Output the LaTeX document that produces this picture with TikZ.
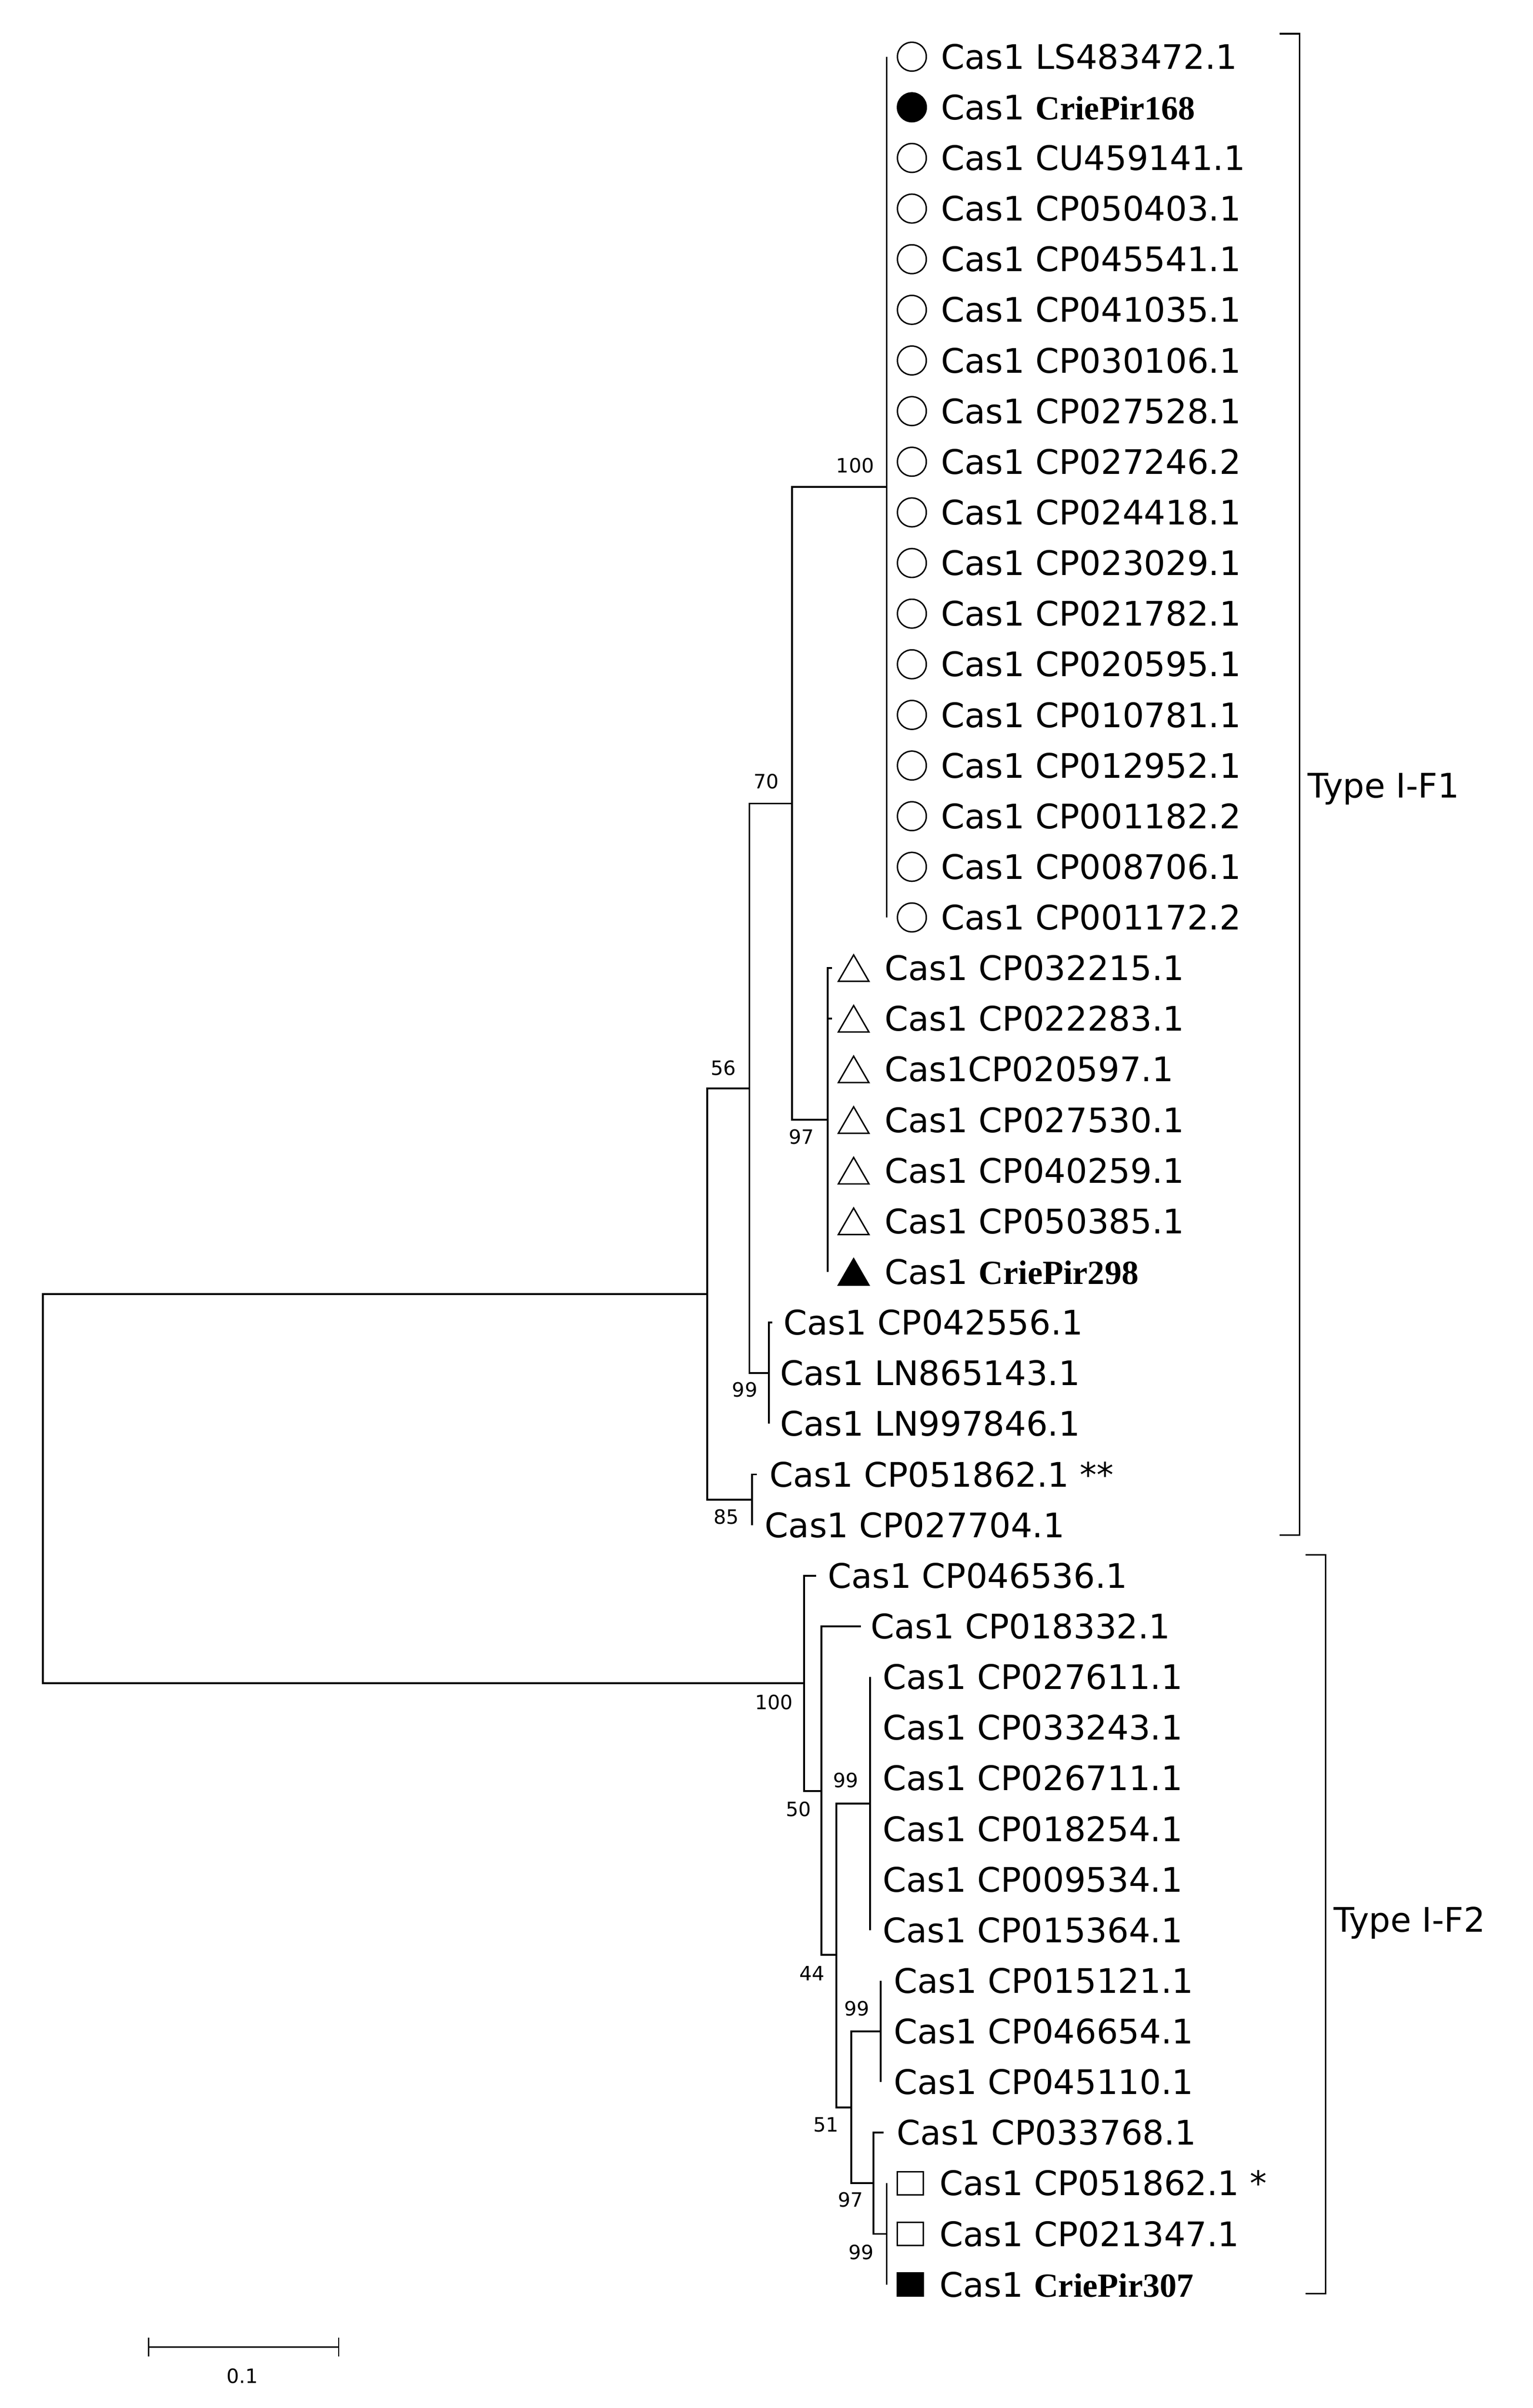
\documentclass[tikz,border=0pt]{standalone}
\usepackage{fontspec}
\setmainfont{DejaVu Sans}
\newfontfamily\tnr{Liberation Serif}
\usetikzlibrary{shapes.geometric}
\begin{document}
\begin{tikzpicture}[x=0.03821cm,y=-0.03821cm,
 br/.style={line width=1.3pt},
 lf/.style={anchor=west,inner sep=0pt,font=\fontsize{24}{28}\selectfont},
 sup/.style={inner sep=0pt,font=\fontsize{14}{16}\selectfont},
 circ/.style={circle,draw,line width=1pt,minimum size=0.72cm,inner sep=0pt},
 tri/.style={regular polygon,regular polygon sides=3,draw,line width=1pt,minimum size=0.88cm,inner sep=0pt},
 sq/.style={rectangle,draw,line width=1pt,minimum width=0.65cm,minimum height=0.57cm,inner sep=0pt}]
\useasboundingbox (0,0) rectangle (1000,1571.8);
\fill[white] (0,0) rectangle (1000,1571.8);
% leaves: circles
\foreach \i/\t/\f in {0/LS483472.1/white,1/{\tnr\bfseries CriePir168}/black,2/CU459141.1/white,3/CP050403.1/white,4/CP045541.1/white,5/CP041035.1/white,6/CP030106.1/white,7/CP027528.1/white,8/CP027246.2/white,9/CP024418.1/white,10/CP023029.1/white,11/CP021782.1/white,12/CP020595.1/white,13/CP010781.1/white,14/CP012952.1/white,15/CP001182.2/white,16/CP008706.1/white,17/CP001172.2/white}{
 \pgfmathsetmacro\y{37+33.05*\i}
 \coordinate (l\i) at (578.6,\y);
 \node[circ,fill=\f] (m\i) at (595,\y) {};
 \node[lf] (t\i) at (614,\y) {Cas1 \t};
}
% triangles
\foreach \i/\t/\f/\x in {18/{Cas1 CP032215.1}/white/543,19/{Cas1 CP022283.1}/white/543,20/{Cas1CP020597.1}/white/540,21/{Cas1 CP027530.1}/white/540,22/{Cas1 CP040259.1}/white/540,23/{Cas1 CP050385.1}/white/540,24/{Cas1 {\tnr\bfseries CriePir298}}/black/540}{
 \pgfmathsetmacro\y{37+33.05*\i}
 \coordinate (l\i) at (\x,\y);
 \node[tri,fill=\f] (m\i) at (557,\y+2.9) {};
 \node[lf] (t\i) at (577,\y) {\t};
}
% plain leaves
\foreach \i/\t/\x/\tx in {25/CP042556.1/504/511,26/LN865143.1/501.7/509,27/LN997846.1/501.7/509,28/{CP051862.1 **}/494/502,29/CP027704.1/490.8/499,30/CP046536.1/532.6/540,31/CP018332.1/561.6/568,32/CP027611.1/567.7/576,33/CP033243.1/567.7/576,34/CP026711.1/567.7/576,35/CP018254.1/567.7/576,36/CP009534.1/567.7/576,37/CP015364.1/567.7/576,38/CP015121.1/574.7/583,39/CP046654.1/574.7/583,40/CP045110.1/574.7/583,41/CP033768.1/576.6/585}{
 \pgfmathsetmacro\y{37+33.05*\i}
 \coordinate (l\i) at (\x,\y);
 \node[lf] (t\i) at (\tx,\y) {Cas1 \t};
}
% squares
\foreach \i/\t/\f in {42/{CP051862.1 *}/white,43/CP021347.1/white,44/{{\tnr\bfseries CriePir307}}/black}{
 \pgfmathsetmacro\y{37+33.05*\i}
 \coordinate (l\i) at (578.6,\y);
 \node[sq,fill=\f] (m\i) at (594,\y) {};
 \node[lf] (t\i) at (613,\y) {Cas1 \t};
}
% internal nodes
\coordinate (root) at (28,971.6);
\coordinate (n1) at (461.5,844.7);
\coordinate (n2) at (524.7,1098.6);
\coordinate (n56) at (489,710.4);
\coordinate (n85) at (490.8,979);
\coordinate (n70) at (516.8,524.5);
\coordinate (n99L) at (501.7,896.3);
\coordinate (n100c) at (578.6,317.9);
\coordinate (n97t) at (540,731);
\coordinate (n50) at (536,1169);
\coordinate (n44) at (545.8,1276);
\coordinate (n99a) at (567.7,1177.2);
\coordinate (n51) at (555.4,1375.5);
\coordinate (n99b) at (574.7,1326);
\coordinate (n97b) at (570,1425);
\coordinate (n99c) at (578.6,1458.15);
\begin{scope}[br]
\draw (root) |- (n1); \draw (root) |- (n2);
\draw (n1) |- (n56); \draw (n1) |- (n85);
\draw (n56) |- (n70); \draw (n56) |- (n99L);
\draw (n70) |- (n100c); \draw (n70) |- (n97t);
\foreach \i in {0,...,17} \draw (n100c) |- (l\i);
\foreach \i in {18,...,24} \draw (n97t) |- (l\i);
\foreach \i in {25,26,27} \draw (n99L) |- (l\i);
\foreach \i in {28,29} \draw (n85) |- (l\i);
\draw (n2) |- (l30); \draw (n2) |- (n50);
\draw (n50) |- (l31); \draw (n50) |- (n44);
\draw (n44) |- (n99a); \draw (n44) |- (n51);
\foreach \i in {32,...,37} \draw (n99a) |- (l\i);
\draw (n51) |- (n99b); \draw (n51) |- (n97b);
\foreach \i in {38,39,40} \draw (n99b) |- (l\i);
\draw (n97b) |- (l41); \draw (n97b) |- (n99c);
\foreach \i in {42,43,44} \draw (n99c) |- (l\i);
\end{scope}
% support values
\node[sup] (s1) at (558,304) {100};
\node[sup] (s2) at (500,510) {70};
\node[sup] (s3) at (523,742) {97};
\node[sup] (s4) at (472,697) {56};
\node[sup] (s5) at (486,907) {99};
\node[sup] (s6) at (474,990) {85};
\node[sup] (s7) at (505,1111) {100};
\node[sup] (s8) at (521,1181) {50};
\node[sup] (s9) at (552,1162) {99};
\node[sup] (s10) at (530,1288) {44};
\node[sup] (s11) at (559,1311) {99};
\node[sup] (s12) at (539,1387) {51};
\node[sup] (s13) at (555,1436) {97};
\node[sup] (s14) at (562,1470) {99};
% brackets
\coordinate (b1a) at (835,22); \coordinate (b1b) at (835,1002);
\draw[line width=1.1pt] (b1a) -- (848,22) -- (848,1002) -- (b1b);
\node[lf] (ty1) at (853,515) {Type I-F1};
\coordinate (b2a) at (852,1015); \coordinate (b2b) at (852,1497);
\draw[line width=1.1pt] (b2a) -- (865,1015) -- (865,1497) -- (b2b);
\node[lf] (ty2) at (870,1255) {Type I-F2};
% scale bar
\coordinate (sa) at (97,1532); \coordinate (sb) at (221,1532);
\draw[line width=1pt] (sa) -- (sb);
\draw[line width=1pt] (97,1526) -- (97,1538) (221,1526) -- (221,1538);
\node[sup] (sl) at (158,1551) {0.1};
\end{tikzpicture}
\end{document}
